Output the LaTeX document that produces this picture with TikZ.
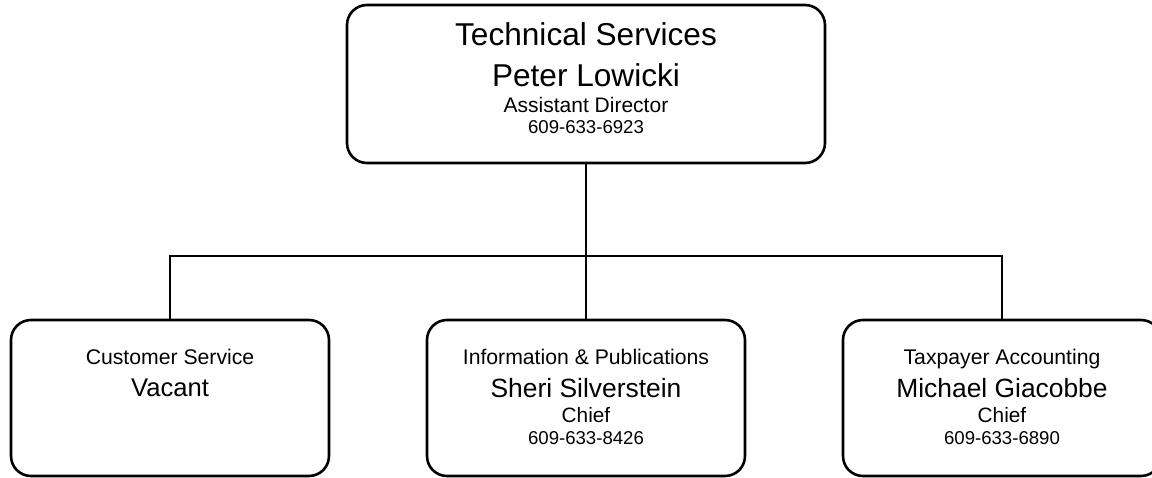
\documentclass[tikz,border=0pt]{standalone}
\usepackage{fontspec}
\setmainfont{Liberation Sans}
\usepackage{tikz}
\tikzstyle{unit} = [draw, line width=1.3pt, rounded corners=10pt, inner sep=0pt, text height=22pt, text depth=56pt]
\tikzstyle{line} = [draw, line width=1.3pt]
% one centred line of a box: size, distance from the line above, text
\newcommand{\orgline}[3]{{\fontsize{#1}{#2}\selectfont #3\par}}
\newcommand{\orgtext}[2]{\vtop{\hsize=#1\parindent=0pt\centering\lineskiplimit=-30pt #2}}

\begin{document}
\begin{tikzpicture}[node distance = 157pt]
    \clip (0,0) rectangle (576pt,-238.5pt);
    \node [unit, text height=20pt, text depth=59pt] (techserv) at (293pt,-42pt) {\orgtext{239pt}{%
        \orgline{15.8pt}{20pt}{Technical Services}
        \orgline{15.8pt}{20.5pt}{Peter Lowicki}
        \orgline{10.5pt}{13pt}{Assistant Director}
        \orgline{9.3pt}{10.5pt}{609-633-6923}}};
    \node [unit, below of=techserv] (infopub) {\orgtext{159pt}{%
        \orgline{10.6pt}{12pt}{Information \& Publications}
        \orgline{13.2pt}{16.5pt}{Sheri Silverstein}
        \orgline{10.4pt}{12.5pt}{Chief}
        \orgline{9.3pt}{11pt}{609-633-8426}}};
    \node [unit, left of=infopub, node distance=208pt] (custserv) {\orgtext{159pt}{%
        \orgline{10.6pt}{12pt}{Customer Service}
        \orgline{12.8pt}{16pt}{Vacant}}};
    \node [unit, right of=infopub, node distance=208pt] (taxacct) {\orgtext{159pt}{%
        \orgline{10.6pt}{12pt}{Taxpayer Accounting}
        \orgline{13.2pt}{16.5pt}{Michael Giacobbe}
        \orgline{10.4pt}{12.5pt}{Chief}
        \orgline{9.3pt}{11pt}{609-633-6890}}};
    \coordinate (bus) at (293pt,-128pt);
    \path [line] (techserv) -- (infopub);
    \path [line] (custserv.north) |- (bus) -| (taxacct.north);
\end{tikzpicture}
\end{document}
